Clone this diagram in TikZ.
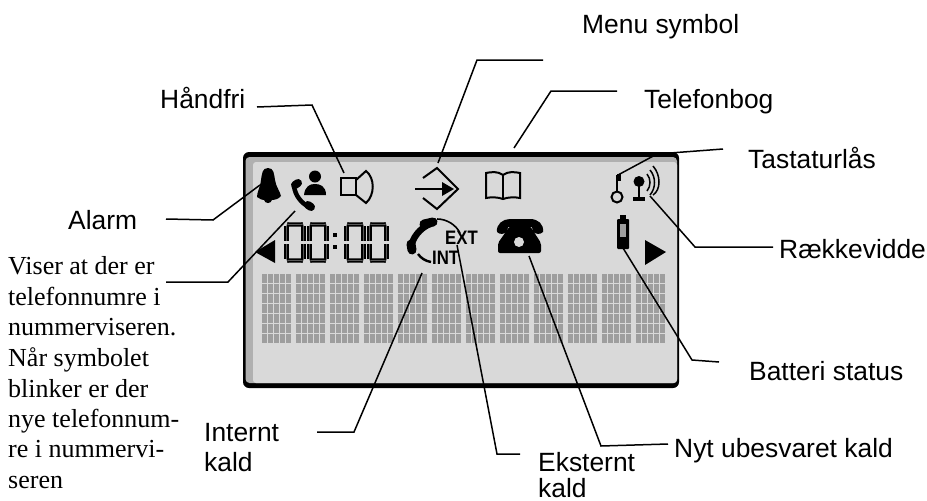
\documentclass[tikz,border=0pt]{standalone}
\usepackage{fontspec}
\setmainfont{Liberation Serif}
\setsansfont{Liberation Sans}
\definecolor{lcd}{HTML}{D9D9D9}
\definecolor{band}{HTML}{B0B0B0}
\definecolor{cell}{HTML}{9E9E9E}
\newcommand{\segdigit}[1]{%
  \draw[segline] (#1+2,224) -- (#1+4,224.5) -- (#1+16,224.5) -- (#1+18,224);
  \draw[segline] (#1+2,261) -- (#1+4,260.5) -- (#1+16,260.5) -- (#1+18,261);
  \draw[segline] (#1+1.5,226) -- (#1+1.5,241);
  \draw[segline] (#1+1.5,244) -- (#1+1.5,259);
  \draw[segline] (#1+18.5,226) -- (#1+18.5,241);
  \draw[segline] (#1+18.5,244) -- (#1+18.5,259);}
\tikzset{
  lab/.style={anchor=base west,inner sep=0pt,font=\sffamily\fontsize{26.4}{26.4}\selectfont},
  serif/.style={anchor=base west,inner sep=0pt,font=\rmfamily\fontsize{26}{26}\selectfont},
  leader/.style={line width=1.5pt,black},
  icon/.style={fill=black,draw=none},
  iconline/.style={draw=black,line width=2pt},
  segline/.style={draw=black,line width=1.6pt,double=black!65,double distance=0.9pt},
  tagtext/.style={inner sep=0pt,xscale=0.86,transform shape,font=\sffamily\bfseries\fontsize{19.5}{19.5}\selectfont}
}
\begin{document}
\begin{tikzpicture}[x=1pt,y=-1pt]
\useasboundingbox (0,0) rectangle (927,501);
% LCD
\fill[black,rounded corners=6pt] (243,152) rectangle (679,388);
\fill[band,rounded corners=4pt] (245.5,157) rectangle (677,383);
\fill[lcd,rounded corners=3pt] (253,162) -- (677,162) -- (677,383) -- (253,383) -- cycle;
% character grid
\foreach \c in {0,...,11}{
  \foreach \r in {0,...,6}{
    \foreach \k in {0,...,4}{
      \fill[cell] ({262+34*\c+5.9*\k},{274+9.95*\r}) rectangle ++(5,9);
    }
  }
}
% bell
\fill[icon] (268,168) .. controls (262,168) and (262,174) .. (261,180) .. controls (260,188) and (257,192) .. (257,197) .. controls (259,199) and (263,200) .. (264,200) .. controls (265,204) and (271,204) .. (272,200) .. controls (274,200) and (279,199) .. (281,196) .. controls (280,191) and (276,187) .. (275,180) .. controls (274,174) and (274,168) .. (268,168) -- cycle;
% caller handset and person
\draw[black,line width=4.5pt] (294,186) .. controls (295,195) and (301,203) .. (309,207);
\draw[black,line width=8pt,line cap=round] (295,185) -- (298,183);
\draw[black,line width=8pt,line cap=round] (308,205) -- (311,207);
\fill[black] (315,176.5) circle (6);
\fill[icon] (304,195) .. controls (305,186) and (310,184) .. (315,184) .. controls (320,184) and (326,186) .. (326,195) -- cycle;
% speaker
\draw[iconline] (341,178) rectangle (356,195);
\draw[iconline] (356,180) -- (366,171) .. controls (375,178) and (375,195) .. (366,203) -- (356,195);
% menu symbol
\draw[iconline] (423,178) -- (437,168) -- (458,189) -- (437,209) -- (423,198);
\draw[black,line width=2.2pt] (415,189) -- (452,189);
\fill[black] (442,182) -- (454,189) -- (442,196) -- cycle;
% book
\draw[iconline] (503,175) .. controls (498,171) and (491,172) .. (486,173) -- (486,198) .. controls (491,197) and (498,197) .. (503,199) .. controls (508,197) and (515,197) .. (520,198) -- (520,173) .. controls (515,172) and (508,171) .. (503,175) -- cycle;
\draw[iconline] (503,175) -- (503,199);
% key
\draw[iconline] (617,197) circle (5.5);
\draw[iconline] (617,191) -- (617,175);
\fill[icon] (617,174) rectangle (621,181);
% antenna
\fill[black] (639,181.5) circle (5.5);
\draw[iconline] (639,186) -- (639,198);
\fill[icon] (633,197) rectangle (645,201);
\draw[black,line width=1.5pt] (647,174) .. controls (651,179) and (651,186) .. (647,191);
\draw[black,line width=1.5pt] (650,170) .. controls (656,177) and (656,188) .. (650,195);
\draw[black,line width=1.5pt] (653,166) .. controls (661,175) and (661,190) .. (653,195);
% clock digits
\segdigit{285}
\segdigit{308}
\segdigit{345}
\segdigit{368}
\fill[black] (332.5,233) rectangle (336.5,237);
\fill[black] (332.5,245) rectangle (336.5,249);
% triangles
\fill[icon] (255,252) -- (275,240) -- (275,263) -- cycle;
\fill[icon] (645,240) -- (645,265) -- (666,252) -- cycle;
% INT EXT handset
\draw[black,line width=6.5pt] (430,224) .. controls (420,228) and (412,238) .. (411,248);
\draw[black,line width=9pt,line cap=round] (424,224) -- (433,222);
\draw[black,line width=9pt,line cap=round] (411,244) -- (412,250);
\draw[black,line width=1.6pt] (437,219) .. controls (447,219) and (456,225) .. (460,233);
\draw[black,line width=2.4pt] (418,254) .. controls (421,258) and (425,261) .. (431,262);
\node[tagtext,anchor=base west] (ext) at (445,244) {EXT};
\node[tagtext,anchor=base west] (int) at (432,264) {INT};
% desk phone
\fill[icon] (497,232) .. controls (496,224) and (503,219) .. (510,219) -- (530,219) .. controls (538,219) and (544,224) .. (543,232) .. controls (540,235) and (536,234) .. (533,232) -- (532,227) -- (508,227) -- (507,232) .. controls (504,234) and (500,235) .. (497,232) -- cycle;
\fill[icon,rounded corners=2pt] (510,226) -- (530,226) -- (541,243) -- (541,253) -- (498,253) -- (498,243) -- cycle;
\fill[lcd] (519,242) circle (5);
% battery
\fill[icon] (620,215) rectangle (626,220);
\fill[icon,rounded corners=1pt] (617,219) rectangle (629,249);
\fill[cell] (620,224) rectangle (626,245);
\fill[icon] (620,237) rectangle (626,245);
% anchors for the leaders
\coordinate (pHand) at (344,173);
\coordinate (pMenu) at (438,163);
\coordinate (pBook) at (514,148);
\coordinate (pKey) at (618,175);
\coordinate (pAnt) at (650,196);
\coordinate (pBat) at (623,248);
\coordinate (pPhone) at (529,256);
\coordinate (pExt) at (457,245);
\coordinate (pInt) at (422,273);
\coordinate (pCaller) at (295,211);
\coordinate (pBell) at (260,185);
% leaders
\draw[leader] (257,107) -- (312,105) -- (pHand);
\draw[leader] (543,60) -- (477,60) -- (pMenu);
\draw[leader] (617,91) -- (551,91) -- (pBook);
\draw[leader] (723,149) -- (657,154) -- (pKey);
\draw[leader] (773,247) -- (695,247) -- (pAnt);
\draw[leader] (719,362) -- (692,360) -- (pBat);
\draw[leader] (668,444) -- (601,446) -- (pPhone);
\draw[leader] (520,454) -- (497,454) -- (pExt);
\draw[leader] (317,432) -- (354,432) -- (pInt);
\draw[leader] (166,282) -- (228,282) -- (pCaller);
\draw[leader] (166,219) -- (213,220) -- (pBell);
% labels
\node[lab] (menu) at (582,33) {Menu symbol};
\node[lab] (handfri) at (160,108) {Håndfri};
\node[lab] (telefonbog) at (644,108) {Telefonbog};
\node[lab] (tastatur) at (748,168) {Tastaturlås};
\node[lab] (raekke) at (779,258) {Rækkevidde};
\node[lab] (batteri) at (749,380) {Batteri status};
\node[lab] (nyt) at (674,457) {Nyt ubesvaret kald};
\node[lab] (ekst1) at (538,471) {Eksternt};
\node[lab] (ekst2) at (538,497) {kald};
\node[lab] (int1) at (204,441) {Internt};
\node[lab] (int2) at (204,471) {kald};
\node[lab] (alarm) at (68,229) {Alarm};
\node[serif] (v1) at (8,274) {Viser at der er};
\node[serif] (v2) at (8,305) {telefonnumre i};
\node[serif] (v3) at (8,335) {nummerviseren.};
\node[serif] (v4) at (8,366) {Når symbolet};
\node[serif] (v5) at (8,397) {blinker er der};
\node[serif] (v6) at (8,427) {nye telefonnum-};
\node[serif] (v7) at (8,457) {re i nummervi-};
\node[serif] (v8) at (8,488) {seren};
\end{tikzpicture}
\end{document}
